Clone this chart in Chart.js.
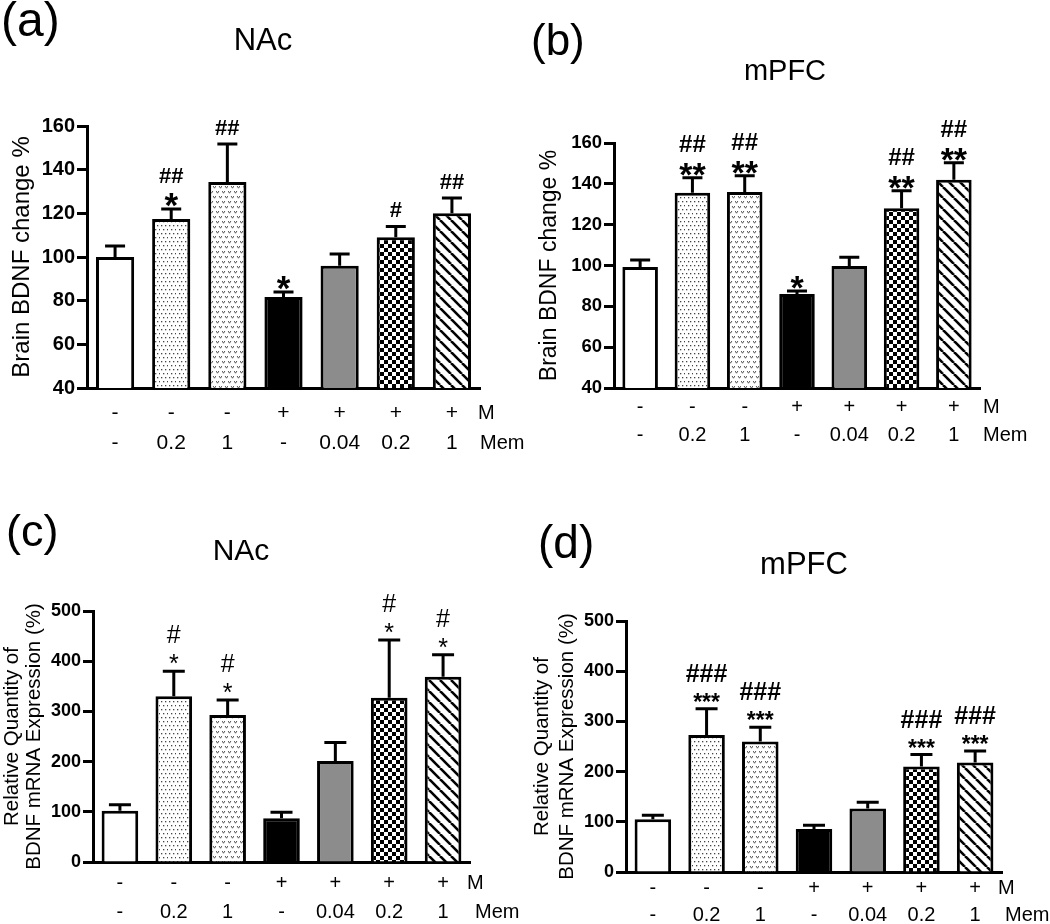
<!DOCTYPE html>
<html><head><meta charset="utf-8">
<script src="https://cdn.jsdelivr.net/npm/chart.js@4.4.1/dist/chart.umd.min.js"></script>
<style>
body{margin:0;background:#fff;width:1050px;height:924px;overflow:hidden;position:relative;font-family:"Liberation Sans",Arial,sans-serif;}
canvas{position:absolute;}
.lbl{position:absolute;line-height:1;color:#000;white-space:nowrap;font-family:"Liberation Sans",Arial,sans-serif;}
.ttl{position:absolute;line-height:1;color:#000;white-space:nowrap;width:200px;text-align:center;font-family:"Liberation Sans",Arial,sans-serif;}
</style></head><body>
<canvas id="ca" width="535" height="460" style="left:0;top:0"></canvas>
<canvas id="cb" width="525" height="460" style="left:525px;top:0"></canvas>
<canvas id="cc" width="525" height="464" style="left:0;top:460px"></canvas>
<canvas id="cd" width="525" height="464" style="left:525px;top:460px"></canvas>
<div class="lbl" style="left:1px;top:-4px;font-size:48px">(a)</div>
<div class="ttl" style="left:163px;top:24px;font-size:31px">NAc</div>
<div class="lbl" style="left:531px;top:18px;font-size:44px">(b)</div>
<div class="ttl" style="left:685px;top:56px;font-size:29px">mPFC</div>
<div class="lbl" style="left:6px;top:508px;font-size:45px">(c)</div>
<div class="ttl" style="left:141px;top:535px;font-size:30px">NAc</div>
<div class="lbl" style="left:538px;top:519px;font-size:46px">(d)</div>
<div class="ttl" style="left:704px;top:548px;font-size:31px">mPFC</div>
<script>
// ---- data ----
const mRow = ['-', '-', '-', '+', '+', '+', '+'];
const memRow = ['-', '0.2', '1', '-', '0.04', '0.2', '1'];
const rowNames = ['M', 'Mem'];

const proteinTickValues = [40, 60, 80, 100, 120, 140, 160];
const mrnaTickValues = [0, 100, 200, 300, 400, 500];

const nacProteinMean = [100, 117.4, 134.4, 81.7, 96, 109, 120];
const nacProteinSem = [5, 4.6, 17.4, 2.3, 5.4, 5, 7];
const nacProteinStars = ['', '*', '', '*', '', '', ''];
const nacProteinHashes = ['', '##', '##', '', '', '#', '##'];

const mpfcProteinMean = [99.3, 135.6, 136, 86, 99.8, 128, 142];
const mpfcProteinSem = [3.4, 7.4, 8, 1.5, 4.2, 8.6, 8.3];
const mpfcProteinStars = ['', '**', '**', '*', '', '**', '**'];
const mpfcProteinHashes = ['', '##', '##', '', '', '##', '##'];

const nacMrnaMean = [102, 330, 293, 87, 201, 327, 369];
const nacMrnaSem = [12, 50, 29.5, 12, 37, 115, 43.6];
const nacMrnaStars = ['', '*', '*', '', '', '*', '*'];
const nacMrnaHashes = ['', '#', '#', '', '', '#', '#'];

const mpfcMrnaMean = [105, 273, 260, 85.5, 126.7, 210, 218];
const mpfcMrnaSem = [8, 52, 28.5, 7.5, 12.3, 24, 23];
const mpfcMrnaStars = ['', '***', '***', '', '', '***', '***'];
const mpfcMrnaHashes = ['', '###', '###', '', '', '###', '###'];

const proteinTitle = 'Brain BDNF change %';
const mrnaTitle = ['Relative Quantity of', 'BDNF mRNA Expression (%)'];

// ---- patterns ----
function makePattern(kind) {
  const c = document.createElement('canvas');
  const g = c.getContext('2d');
  if (kind === 'dots') {
    c.width = 8; c.height = 8;
    g.fillStyle = '#fff'; g.fillRect(0, 0, 8, 8);
    g.fillStyle = '#444';
    [[1,1],[5,1],[3,5],[7,5]].forEach(p => g.fillRect(p[0], p[1], 1.3, 1.3));
  } else if (kind === 'vdots') {
    c.width = 6; c.height = 10;
    g.fillStyle = '#fff'; g.fillRect(0, 0, 6, 10);
    g.strokeStyle = '#555'; g.lineWidth = 1;
    [[1.5,2],[4.5,7]].forEach(p => { g.beginPath(); g.moveTo(p[0]-1.4,p[1]-1); g.lineTo(p[0],p[1]+1.2); g.lineTo(p[0]+1.4,p[1]-1); g.stroke(); });
  } else if (kind === 'checker') {
    c.width = 8; c.height = 8;
    g.fillStyle = '#fff'; g.fillRect(0, 0, 8, 8);
    g.fillStyle = '#000'; g.fillRect(0, 0, 4, 4); g.fillRect(4, 4, 4, 4);
  } else if (kind === 'hatch') {
    c.width = 11; c.height = 11;
    g.fillStyle = '#fff'; g.fillRect(0, 0, 11, 11);
    g.strokeStyle = '#000'; g.lineWidth = 2.6;
    [-11, 0, 11].forEach(x0 => { g.beginPath(); g.moveTo(x0, 0); g.lineTo(x0 + 11, 11); g.stroke(); });
  }
  return g.createPattern(c, 'repeat');
}
const fills = ['#ffffff', makePattern('dots'), makePattern('vdots'), '#000000', '#8c8c8c', makePattern('checker'), makePattern('hatch')];

// ---- plugin for error bars, significance marks and row names ----
function annoPlugin(cfg) {
  return {
    id: 'anno_' + cfg.key,
    afterDatasetsDraw(chart) {
      const ctx = chart.ctx, ys = chart.scales.y, area = chart.chartArea;
      const meta = chart.getDatasetMeta(0);
      ctx.save();
      ctx.strokeStyle = '#000'; ctx.fillStyle = '#000'; ctx.lineWidth = 3;
      meta.data.forEach((bar, i) => {
        const top = ys.getPixelForValue(cfg.mean[i] + cfg.sem[i]);
        const x = bar.x;
        ctx.beginPath();
        ctx.moveTo(x, bar.y); ctx.lineTo(x, top);
        ctx.moveTo(x - cfg.cap / 2, top); ctx.lineTo(x + cfg.cap / 2, top);
        ctx.stroke();
        ctx.textAlign = 'center'; ctx.textBaseline = 'alphabetic';
        let hc;
        if (cfg.stars[i]) {
          ctx.font = cfg.starFont;
          ctx.fillText(cfg.stars[i], x, top - cfg.starGap + cfg.starBase);
          hc = top - cfg.hashGapWith;
        } else {
          hc = top - cfg.hashGapAlone;
        }
        if (cfg.hashes[i]) {
          ctx.font = cfg.hashFont;
          ctx.fillText(cfg.hashes[i], x, hc + cfg.hashBase);
        }
      });
      ctx.font = cfg.rowFont; ctx.textAlign = 'left'; ctx.textBaseline = 'middle';
      ctx.fillText(rowNames[0], area.right + cfg.mDx, area.bottom + cfg.row1);
      ctx.fillText(rowNames[1], area.right + cfg.memDx, area.bottom + cfg.row1 + cfg.rowGap);
      ctx.restore();
    }
  };
}

function makeChart(id, p) {
  const labels = mRow.map((m, i) => [m, memRow[i]]);
  return new Chart(document.getElementById(id), {
    type: 'bar',
    data: {
      labels: labels,
      datasets: [{
        data: p.mean,
        backgroundColor: fills,
        borderColor: '#000',
        borderWidth: 3,
        barPercentage: 0.68,
        categoryPercentage: 1
      }]
    },
    options: {
      responsive: false,
      animation: false,
      devicePixelRatio: 1,
      layout: { padding: p.pad },
      plugins: { legend: { display: false }, tooltip: { enabled: false }, title: { display: false } },
      scales: {
        x: {
          grid: { display: false, drawTicks: false },
          border: { display: true, color: '#000', width: 3 },
          ticks: {
            color: '#000', autoSkip: false, maxRotation: 0, padding: p.xPad,
            font: { family: 'Liberation Sans, Arial', size: p.xFont, lineHeight: p.xLh }
          },
          afterFit: s => { s.height = p.xHeight; }
        },
        y: {
          min: p.ticks[0], max: p.ticks[p.ticks.length - 1],
          grid: { display: true, drawOnChartArea: false, drawTicks: true, tickLength: 10, tickWidth: 3, color: '#000' },
          border: { display: true, color: '#000', width: 3 },
          ticks: {
            stepSize: p.ticks[1] - p.ticks[0], color: '#000', padding: 2,
            font: { family: 'Liberation Sans, Arial', size: p.yFont, weight: 'bold' }
          },
          title: {
            display: true, text: p.title, color: '#000', padding: 0,
            font: { family: 'Liberation Sans, Arial', size: p.titleFont, lineHeight: p.titleLh }
          },
          afterFit: s => { s.width = p.yWidth; }
        }
      }
    },
    plugins: [annoPlugin(Object.assign({ key: id, mean: p.mean, sem: p.sem, stars: p.stars, hashes: p.hashes }, p.anno))]
  });
}

makeChart('ca', {
  mean: nacProteinMean, sem: nacProteinSem, stars: nacProteinStars, hashes: nacProteinHashes,
  ticks: proteinTickValues, title: proteinTitle, titleFont: 24, titleLh: 1.2,
  pad: { left: 8, right: 55, top: 126, bottom: 0 }, yWidth: 79, xHeight: 72,
  yFont: 20, xFont: 21, xLh: 1.43, xPad: 10,
  anno: { cap: 20, starFont: 'bold 35px Liberation Sans, Arial', starGap: 12, starBase: 20,
          hashFont: 'bold 22px Liberation Sans, Arial', hashGapWith: 34, hashGapAlone: 17, hashBase: 8,
          rowFont: '20px Liberation Sans, Arial', mDx: -2, memDx: 0, row1: 25, rowGap: 30 }
});
makeChart('cb', {
  mean: mpfcProteinMean, sem: mpfcProteinSem, stars: mpfcProteinStars, hashes: mpfcProteinHashes,
  ticks: proteinTickValues, title: proteinTitle, titleFont: 23, titleLh: 1.2,
  pad: { left: 11, right: 70, top: 143, bottom: 0 }, yWidth: 78, xHeight: 72,
  yFont: 18.5, xFont: 20, xLh: 1.4, xPad: 5,
  anno: { cap: 20, starFont: 'bold 34px Liberation Sans, Arial', starGap: 12, starBase: 20,
          hashFont: 'bold 24px Liberation Sans, Arial', hashGapWith: 35, hashGapAlone: 17, hashBase: 9,
          rowFont: '20px Liberation Sans, Arial', mDx: 3, memDx: 3, row1: 19, rowGap: 28 }
});
makeChart('cc', {
  mean: nacMrnaMean, sem: nacMrnaSem, stars: nacMrnaStars, hashes: nacMrnaHashes,
  ticks: mrnaTickValues, title: mrnaTitle, titleFont: 20.5, titleLh: 1.1,
  pad: { left: 1, right: 55, top: 151, bottom: 0 }, yWidth: 92, xHeight: 62,
  yFont: 18, xFont: 20, xLh: 1.45, xPad: 6.5,
  anno: { cap: 22, starFont: '25px Liberation Sans, Arial', starGap: 13, starBase: 14,
          hashFont: '25px Liberation Sans, Arial', hashGapWith: 37, hashGapAlone: 17, hashBase: 9,
          rowFont: '20px Liberation Sans, Arial', mDx: -3, memDx: 5, row1: 21, rowGap: 29 }
});
makeChart('cd', {
  mean: mpfcMrnaMean, sem: mpfcMrnaSem, stars: mpfcMrnaStars, hashes: mpfcMrnaHashes,
  ticks: mrnaTickValues, title: mrnaTitle, titleFont: 20.5, titleLh: 1.22,
  pad: { left: 5, right: 48, top: 161, bottom: 0 }, yWidth: 96, xHeight: 52,
  yFont: 18, xFont: 20, xLh: 1.35, xPad: 2.5,
  anno: { cap: 22, starFont: 'bold 23px Liberation Sans, Arial', starGap: 12, starBase: 13,
          hashFont: 'bold 25px Liberation Sans, Arial', hashGapWith: 36, hashGapAlone: 17, hashBase: 9,
          rowFont: '20px Liberation Sans, Arial', mDx: -4, memDx: 3, row1: 16, rowGap: 27 }
});
</script>
</body></html>
